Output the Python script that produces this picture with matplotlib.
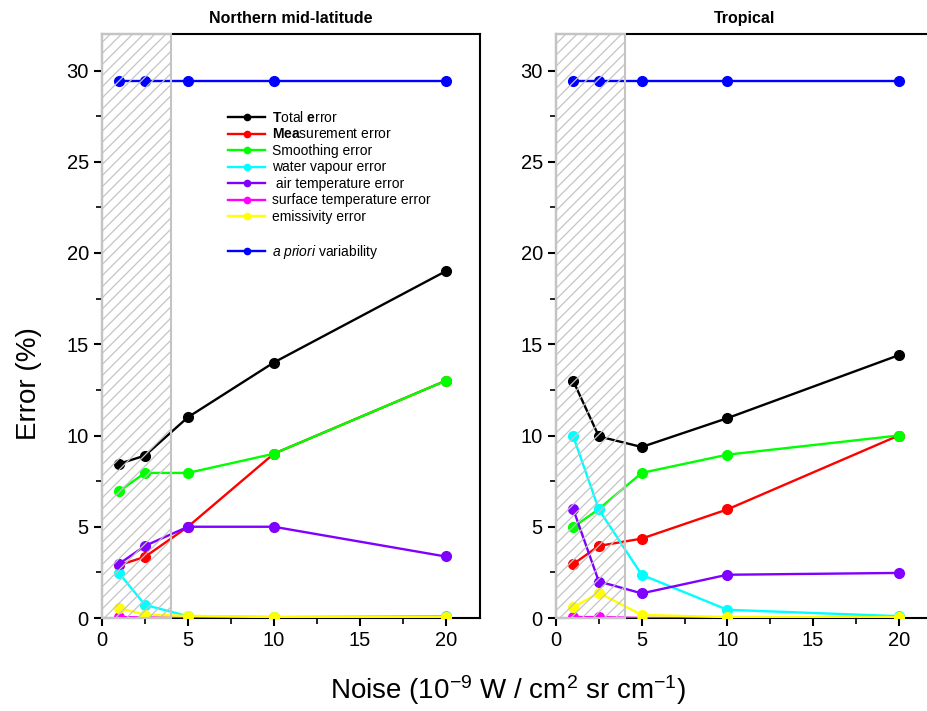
import matplotlib
matplotlib.use('Agg')
import matplotlib.pyplot as plt
from matplotlib.lines import Line2D
from matplotlib.patches import Rectangle
from matplotlib.ticker import MultipleLocator

plt.rcParams['font.family'] = ['Liberation Sans', 'DejaVu Sans']
plt.rcParams['mathtext.fontset'] = 'custom'
plt.rcParams['mathtext.rm'] = 'Liberation Sans'
plt.rcParams['mathtext.bf'] = 'Liberation Sans:bold'
plt.rcParams['mathtext.it'] = 'Liberation Sans:italic'
plt.rcParams['hatch.linewidth'] = 0.9

# noise levels (x axis)
noise = [1, 2.5, 5, 10, 20]

# Northern mid-latitude errors (%)
nm_total = [8.45, 8.9, 11.0, 14.0, 19.0]
nm_meas = [2.9, 3.35, 5.0, 9.0, 13.0]
nm_smooth = [6.95, 7.95, 7.95, 9.0, 13.0]
nm_wv = [2.45, 0.72, 0.1, 0.05, 0.1]
nm_airt = [2.97, 3.95, 5.0, 5.0, 3.37]
nm_surft = [0.05, 0.03, 0.0, 0.0, 0.0]
nm_emis = [0.55, 0.18, 0.12, 0.05, 0.05]
nm_apriori = [29.4, 29.4, 29.4, 29.4, 29.4]

# Tropical errors (%)
tr_total = [13.0, 9.95, 9.37, 10.95, 14.4]
tr_meas = [2.95, 3.95, 4.35, 5.95, 10.0]
tr_smooth = [4.97, 5.97, 7.95, 8.95, 10.0]
tr_wv = [9.97, 5.95, 2.37, 0.45, 0.1]
tr_airt = [5.98, 2.0, 1.35, 2.37, 2.47]
tr_surft = [0.05, 0.05, 0.0, 0.0, 0.0]
tr_emis = [0.58, 1.38, 0.17, 0.05, 0.05]
tr_apriori = [29.4, 29.4, 29.4, 29.4, 29.4]

labels = ['$\\mathbf{T}$otal $\\mathbf{e}$rror',
          '$\\mathbf{Mea}$surement error',
          'Smoothing error',
          'water vapour error',
          ' air temperature error',
          'surface temperature error',
          'emissivity error']
colors = ['#000000', '#ff0000', '#00ff00', '#00ffff', '#8000ff', '#ff00ff', '#ffff00']
apriori_label = '$\\it{a\\ priori}$ variability'
apriori_color = '#0000ff'

panels = [
    ('Northern mid-latitude',
     [nm_total, nm_meas, nm_smooth, nm_wv, nm_airt, nm_surft, nm_emis], nm_apriori),
    ('Tropical',
     [tr_total, tr_meas, tr_smooth, tr_wv, tr_airt, tr_surft, tr_emis], tr_apriori),
]

fig = plt.figure(figsize=(9.28, 7.11), dpi=100)
ax_l = fig.add_axes([102 / 928, 93 / 711, 378 / 928, 584 / 711])
ax_r = fig.add_axes([556 / 928, 93 / 711, 377 / 928, 584 / 711])

for ax, (title, series, apriori) in zip([ax_l, ax_r], panels):
    for vals, col in zip(series, colors):
        ax.plot(noise, vals, color=col, lw=1.7, marker='o', ms=7, zorder=3)
    ax.plot(noise, apriori, color=apriori_color, lw=1.7, marker='o', ms=7, zorder=3)

    # hatched box over the low-noise region
    box = Rectangle((0, 0), 4, 32, facecolor='none', edgecolor='#c4c4c4',
                    hatch='///', lw=1.5, zorder=5, clip_on=False)
    ax.add_patch(box)

    ax.set_xlim(0, 22)
    ax.set_ylim(0, 32)
    ax.xaxis.set_major_locator(MultipleLocator(5))
    ax.xaxis.set_minor_locator(MultipleLocator(2.5))
    ax.yaxis.set_major_locator(MultipleLocator(5))
    ax.yaxis.set_minor_locator(MultipleLocator(2.5))
    ax.tick_params(which='major', direction='out', length=6, width=1.5, labelsize=14.5)
    ax.tick_params(which='minor', direction='out', length=4, width=1.2)
    for s in ax.spines.values():
        s.set_linewidth(1.5)
    ax.set_title(title, fontsize=11.5, fontweight='bold', pad=8)

ax_r.spines['right'].set_visible(False)

handles = [Line2D([], [], color=c, lw=1.7, marker='o', ms=4.5) for c in colors]
handles.append(Line2D([], [], color='none'))
handles.append(Line2D([], [], color=apriori_color, lw=1.7, marker='o', ms=4.5))
leg_labels = labels + [' ', apriori_label]
ax_l.legend(handles, leg_labels, loc='upper left', bbox_to_anchor=(0.333, 0.870),
            frameon=False, fontsize=10, borderpad=0, borderaxespad=0,
            handlelength=2.7, handletextpad=0.45, labelspacing=0.18)

fig.text(0.031, 0.46, 'Error (%)', rotation=90, fontsize=20, ha='center', va='center')
fig.text(0.547, 0.03, 'Noise (10$^{-9}$ W / cm$^{2}$ sr cm$^{-1}$)', fontsize=20,
         ha='center', va='center')

fig.savefig('out.png', dpi=100)
